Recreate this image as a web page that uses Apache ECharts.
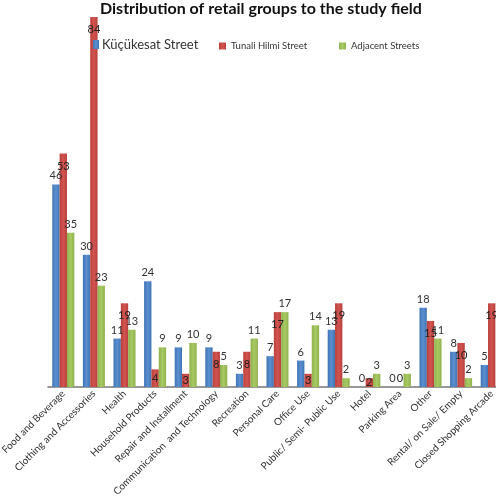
<!DOCTYPE html>
<html>
<head>
<meta charset="utf-8">
<script src="https://cdn.jsdelivr.net/npm/echarts@6/dist/echarts.min.js"></script>
<style>
  html, body { margin: 0; padding: 0; background: #fff; }
  #chart { width: 496px; height: 499px; }
</style>
</head>
<body>
<div id="chart"></div>
<script>
var categories = ['Food and Beverage', 'Clothing and Accessories', 'Health', 'Household Products',
    'Repair and Installment', 'Communication  and Technology', 'Recreation', 'Personal Care',
    'Office Use', 'Public/ Semi- Public Use', 'Hotel', 'Parking Area', 'Other',
    'Rental/ on Sale/ Empty', 'Closed Shopping Arcade'];
var kucukesat = [46, 30, 11, 24, 9, 9, 3, 7, 6, 13, 0, 0, 18, 8, 5];
var tunali = [53, 84, 19, 4, 3, 8, 8, 17, 3, 19, 2, 0, 15, 10, 19];
var adjacent = [35, 23, 13, 9, 10, 5, 11, 17, 14, 2, 3, 3, 11, 2, 0];

var font = 'Lato';
var myChart = echarts.init(document.getElementById('chart'));

function grad(top, bottom) {
    return new echarts.graphic.LinearGradient(0, 0, 1, 0, [
        {offset: 0, color: top}, {offset: 0.5, color: bottom}, {offset: 1, color: top}
    ]);
}

// small red bars carry their label in the middle, zero ones above
var tunaliData = tunali.map(function (v) {
    if (v === 0) return {value: v, label: {position: 'top', distance: 3}};
    if (v <= 4) return {value: v, label: {position: 'inside'}};
    return v;
});

var option = {
    animation: false,
    textStyle: {fontFamily: font},
    title: {
        text: 'Distribution of retail groups to the study field',
        left: 100,
        top: 1,
        padding: 0,
        textStyle: {fontSize: 16, fontWeight: 'bold', color: '#111', fontFamily: font}
    },
    legend: [{
        left: 88, top: 33,
        icon: 'rect', itemWidth: 6, itemHeight: 9, itemGap: 4,
        data: ['Küçükesat Street'],
        textStyle: {fontSize: 13, color: '#333', fontFamily: font, padding: [0, 0, 0, -2]}
    }, {
        left: 214, top: 36,
        icon: 'rect', itemWidth: 7, itemHeight: 7,
        data: ['Tunali Hilmi Street'],
        textStyle: {fontSize: 9.5, color: '#333', fontFamily: font}
    }, {
        left: 334, top: 36,
        icon: 'rect', itemWidth: 7, itemHeight: 7,
        data: ['Adjacent Streets'],
        textStyle: {fontSize: 9.5, color: '#333', fontFamily: font}
    }],
    grid: {left: 48, top: 17, width: 459, bottom: 112, containLabel: false, outerBoundsMode: 'none'},
    xAxis: {
        type: 'category',
        data: categories,
        axisLine: {lineStyle: {color: '#777', width: 1.5}},
        axisTick: {show: false},
        axisLabel: {rotate: 45, interval: 0, fontSize: 10, color: '#333', margin: 5, fontFamily: font}
    },
    yAxis: {
        type: 'value',
        min: 0, max: 84,
        show: false,
        splitLine: {show: false}
    },
    series: [{
        name: 'Küçükesat Street',
        type: 'bar',
        data: kucukesat,
        barGap: '0%',
        barCategoryGap: '28%',
        itemStyle: {color: grad('#3f74b5', '#5b8fd0')},
        label: {show: true, position: 'top', distance: 3, fontSize: 11, color: '#333', fontFamily: font}
    }, {
        name: 'Tunali Hilmi Street',
        type: 'bar',
        data: tunaliData,
        itemStyle: {color: grad('#b8403c', '#d25450')},
        label: {show: true, position: 'insideTop', distance: 7, fontSize: 11, color: '#222', fontFamily: font}
    }, {
        name: 'Adjacent Streets',
        type: 'bar',
        data: adjacent,
        itemStyle: {color: grad('#8fb24c', '#a8c964')},
        label: {show: true, position: 'top', distance: 3, fontSize: 11, color: '#333', fontFamily: font}
    }]
};

myChart.setOption(option);
</script>
</body>
</html>
